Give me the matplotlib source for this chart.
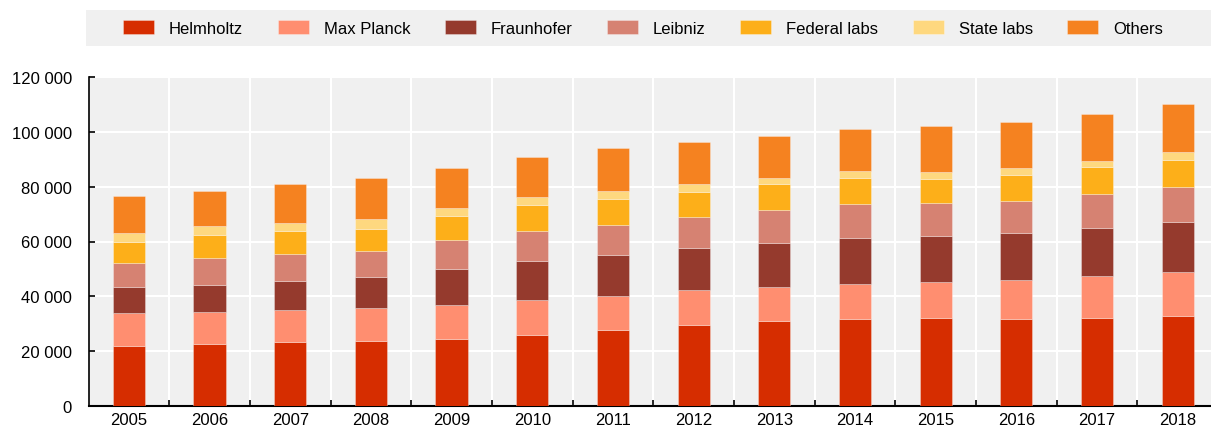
import matplotlib.pyplot as plt
import numpy as np
from matplotlib.patches import Rectangle
from matplotlib.ticker import FuncFormatter

plt.rcParams['font.family'] = ['Liberation Sans', 'DejaVu Sans']
plt.rcParams['font.size'] = 12

years = [2005, 2006, 2007, 2008, 2009, 2010, 2011,
         2012, 2013, 2014, 2015, 2016, 2017, 2018]

helmholtz = [21900, 22700, 23200, 23700, 24300, 25800, 27600,
             29400, 30900, 31600, 32000, 31600, 32200, 33000]
max_planck = [11900, 11700, 11950, 12200, 12600, 12900, 12700,
              12900, 12600, 12900, 13100, 14200, 15300, 15800]
fraunhofer = [9500, 9900, 10450, 11000, 13000, 14100, 14700,
              15200, 15900, 16700, 16800, 17200, 17300, 18200]
leibniz = [8900, 9800, 9700, 9800, 10800, 11200, 11200,
           11300, 12100, 12300, 12000, 11900, 12700, 12900]
federal_labs = [7500, 8200, 8400, 8000, 8500, 9200, 9200,
                9200, 9300, 9500, 8800, 9300, 9500, 9700]
state_labs = [3550, 3400, 3200, 3400, 3200, 2900, 3200,
              3100, 2500, 2600, 2700, 2500, 2500, 2900]
others = [13250, 12900, 14000, 15200, 14500, 14800, 15400,
          15300, 15200, 15600, 16800, 16800, 16900, 17500]

series = [
    ("Helmholtz", helmholtz, "#D62D00"),
    ("Max Planck", max_planck, "#FF8E70"),
    ("Fraunhofer", fraunhofer, "#953A2D"),
    ("Leibniz", leibniz, "#D68272"),
    ("Federal labs", federal_labs, "#FDAF19"),
    ("State labs", state_labs, "#FED87F"),
    ("Others", others, "#F58220"),
]

W, H = 1211, 431
fig = plt.figure(figsize=(W / 100, H / 100), dpi=100)

# legend band
fig.patches.append(Rectangle((86 / W, 1 - 47 / H), 1.0, 36 / H,
                             transform=fig.transFigure, facecolor="#F0F0F0",
                             edgecolor="none", zorder=0))

ax = fig.add_axes([88.6 / W, 24 / H, (1218 - 88.6) / W, 329 / H])
ax.set_facecolor("#F0F0F0")

x = np.arange(len(years))
bottom = np.zeros(len(years))
for name, vals, color in series:
    ax.bar(x, vals, width=0.4, bottom=bottom, color=color, label=name,
           edgecolor=(1, 1, 1, 0.35), linewidth=0.6, zorder=3)
    bottom += np.array(vals)

ax.set_xlim(-0.5, len(years) - 0.5)
ax.set_ylim(0, 120000)
ax.set_yticks(np.arange(0, 120001, 20000))
ax.yaxis.set_major_formatter(FuncFormatter(lambda v, p: f"{v:,.0f}".replace(",", " ")))

ax.set_xticks(x[:-1] + 0.5)
ax.set_xticklabels([])
ax.set_xticks(x, minor=True)
ax.set_xticklabels([str(y) for y in years], minor=True)
ax.tick_params(axis="x", which="major", direction="in", length=4, width=1.2, color="black")
ax.tick_params(axis="x", which="minor", length=0, pad=4)
ax.tick_params(axis="y", direction="in", length=4, width=1.2, pad=12, color="black")

ax.grid(True, which="major", color="white", linewidth=1.5, zorder=1)
ax.set_axisbelow(True)

for s in ["top", "right"]:
    ax.spines[s].set_visible(False)
ax.spines["left"].set_linewidth(1.2)
ax.spines["bottom"].set_linewidth(1.5)

fig.legend(loc="center", bbox_to_anchor=(123 / W, 1 - 29 / H, 1040 / W, 0),
           ncol=7, mode="expand", frameon=False, borderpad=0, borderaxespad=0,
           handlelength=1.86, handleheight=0.9, handletextpad=0.9, fontsize=12)

fig.savefig("out.png", dpi=100)
